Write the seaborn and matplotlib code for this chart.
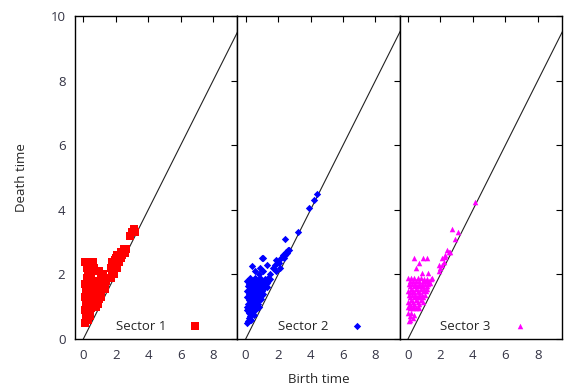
import pandas as pd
import matplotlib
matplotlib.use("Agg")
import matplotlib.pyplot as plt
import seaborn as sns

# persistence pairs (birth, death)
s1_birth = [0.1, 0.2, 0.3, 0.1, 0.2, 0.1, 0.2, 0.1, 0.3, 0.4, 0.5, 0.4, 0.6, 0.5, 0.7, 0.3,
            0.6, 0.8, 0.9, 0.7, 1.0, 1.1, 1.2, 0.9, 1.3, 1.4, 1.5, 1.1, 0.2, 0.4, 0.6, 0.3,
            0.8, 1.0, 1.2, 0.5, 0.2, 0.1, 0.3, 0.5, 0.7, 0.9, 1.1, 0.2, 0.4, 0.8,
            0.15, 0.35, 0.55, 0.75, 0.95, 1.15, 1.35, 0.15, 0.35, 0.55, 0.75, 0.95,
            0.15, 0.35, 0.55, 0.15, 0.35, 0.45, 0.65, 1.05, 1.25, 0.25, 0.45, 0.65,
            1.7, 1.8, 1.9, 2.0, 1.8, 2.1, 2.2, 2.3, 2.5, 2.6, 2.4, 2.0, 1.9, 2.1, 1.7,
            1.75, 1.95, 2.15, 2.35, 2.55, 2.65,
            2.9, 3.1, 3.2, 3.0]
s1_death = [0.5, 0.7, 0.6, 0.9, 1.1, 1.3, 1.5, 1.7, 1.8, 1.0, 1.2, 1.4, 1.5, 1.7, 1.8, 1.2,
            1.0, 1.3, 1.1, 1.6, 1.5, 1.3, 1.7, 1.8, 1.6, 1.8, 1.9, 1.9, 2.2, 2.3, 2.4, 2.0,
            2.1, 2.1, 2.0, 2.0, 1.9, 2.4, 2.4, 1.6, 1.4, 1.5, 1.6, 0.8, 0.7, 1.0,
            1.55, 1.55, 1.55, 1.55, 1.55, 1.55, 1.55, 1.25, 1.25, 1.25, 1.25, 1.25,
            1.0, 1.0, 1.0, 0.75, 0.85, 0.95, 1.15, 1.75, 1.85, 2.3, 2.15, 2.2,
            1.9, 2.1, 2.3, 2.5, 2.4, 2.6, 2.4, 2.7, 2.8, 2.7, 2.6, 2.2, 2.0, 2.2, 2.2,
            2.25, 2.45, 2.45, 2.5, 2.65, 2.8,
            3.2, 3.4, 3.3, 3.3]

s2_birth = [4.4, 4.2, 3.9, 3.2, 2.4, 2.7, 2.45, 1.8, 2.0, 2.2, 2.3, 2.5, 1.9, 2.1, 1.7, 2.6,
            1.0, 1.1, 0.4, 1.1, 1.5, 0.9, 1.3, 1.4, 0.6, 0.8, 2.35, 2.55, 1.85, 2.05,
            0.1, 0.2, 0.3, 0.4, 0.5, 0.6, 0.7, 0.8, 0.9, 1.0, 1.1, 1.2, 1.3, 1.4, 1.5,
            0.1, 0.2, 0.3, 0.4, 0.5, 0.6, 0.7, 0.8, 0.9, 1.0, 1.1, 1.2, 1.3,
            0.15, 0.25, 0.35, 0.45, 0.55, 0.65, 0.75, 0.85, 0.95, 1.05, 1.15, 1.25,
            0.1, 0.2, 0.3, 0.4, 0.5, 0.6, 0.7, 0.8, 0.9, 1.0, 1.1,
            0.15, 0.25, 0.35, 0.45, 0.55, 0.65, 0.75, 0.85, 0.95,
            0.1, 0.2, 0.3, 0.4, 0.5, 0.6, 0.7, 0.8, 0.2, 0.4, 0.6,
            0.1, 0.2, 0.3, 0.4, 0.5, 0.1, 0.3, 0.2, 0.15, 0.35]
s2_death = [4.5, 4.3, 4.05, 3.3, 3.1, 2.75, 2.6, 2.3, 2.4, 2.5, 2.6, 2.7, 2.1, 2.2, 2.2, 2.75,
            2.5, 2.5, 2.25, 2.1, 2.0, 2.2, 2.3, 1.9, 2.1, 2.0, 2.5, 2.65, 2.45, 2.35,
            1.8, 1.7, 1.9, 1.8, 1.7, 1.9, 1.8, 1.7, 1.9, 1.8, 1.7, 1.85, 1.75, 1.8, 1.85,
            1.5, 1.4, 1.6, 1.5, 1.4, 1.6, 1.5, 1.4, 1.6, 1.5, 1.55, 1.6, 1.6,
            1.65, 1.6, 1.55, 1.65, 1.6, 1.55, 1.65, 1.6, 1.55, 1.65, 1.7, 1.65,
            1.3, 1.2, 1.35, 1.25, 1.3, 1.2, 1.35, 1.25, 1.3, 1.35, 1.4,
            1.1, 1.05, 1.15, 1.1, 1.05, 1.15, 1.1, 1.2, 1.25,
            1.0, 0.95, 1.0, 0.9, 0.95, 1.0, 0.95, 1.0, 0.85, 0.85, 0.9,
            0.9, 0.8, 0.7, 0.85, 0.75, 0.5, 0.6, 0.65, 0.55, 0.6]

s3_birth = [4.1, 2.7, 3.1, 2.9, 2.4, 1.9, 2.1, 2.3, 2.5, 2.0, 2.2, 1.9, 2.6, 2.1, 2.3,
            0.4, 0.95, 1.15, 0.65, 1.25, 0.85, 0.5,
            0.0, 0.1, 0.2, 0.3, 0.4, 0.5, 0.6, 0.7, 0.8, 0.9, 1.0, 1.1, 1.2, 1.3, 1.4, 1.5,
            0.05, 0.15, 0.25, 0.35, 0.45, 0.55, 0.65, 0.75, 0.85, 0.95, 1.05, 1.15, 1.25, 1.35,
            0.0, 0.1, 0.2, 0.3, 0.4, 0.5, 0.6, 0.7, 0.8, 0.9, 1.0, 1.1, 1.2,
            0.05, 0.15, 0.25, 0.35, 0.45, 0.55, 0.65, 0.75, 0.85, 0.95, 1.05,
            0.0, 0.1, 0.2, 0.3, 0.4, 0.5, 0.6, 0.7, 0.8, 0.9,
            0.0, 0.1, 0.2, 0.3, 0.4, 0.5, 0.6, 0.7, 0.0, 0.1, 0.2, 0.3, 0.4, 0.05, 0.15]
s3_death = [4.25, 3.4, 3.3, 3.1, 2.75, 2.3, 2.5, 2.6, 2.7, 2.2, 2.4, 2.1, 2.7, 2.3, 2.55,
            2.5, 2.5, 2.5, 2.35, 2.05, 2.05, 2.2,
            1.9, 1.8, 1.9, 1.8, 1.9, 1.8, 1.9, 1.8, 1.9, 1.8, 1.85, 1.8, 1.85, 1.8, 1.85, 1.9,
            1.7, 1.65, 1.7, 1.65, 1.7, 1.65, 1.7, 1.65, 1.7, 1.65, 1.7, 1.65, 1.7, 1.75,
            1.5, 1.45, 1.55, 1.5, 1.45, 1.55, 1.5, 1.45, 1.55, 1.5, 1.55, 1.5, 1.55,
            1.35, 1.3, 1.35, 1.3, 1.35, 1.3, 1.35, 1.3, 1.35, 1.3, 1.35,
            1.15, 1.1, 1.2, 1.15, 1.1, 1.2, 1.15, 1.1, 1.2, 1.15,
            1.0, 0.95, 1.0, 0.95, 1.0, 0.95, 1.0, 0.95, 0.8, 0.7, 0.8, 0.65, 0.75, 0.55, 0.6]

sectors = ["Sector 1", "Sector 2", "Sector 3"]
colors = ["#ff0000", "#0000ff", "#ff00ff"]
markers = ["s", "D", "^"]
sizes = [30, 14, 16]
births = [s1_birth, s2_birth, s3_birth]
deaths = [s1_death, s2_death, s3_death]
ticks = [0, 2, 4, 6, 8]

sns.set_style("white")
plt.rcParams['font.family'] = ['Open Sans', 'DejaVu Sans']
plt.rcParams['xtick.direction'] = 'in'
plt.rcParams['ytick.direction'] = 'in'

fig, axes = plt.subplots(1, 3, figsize=(5.65, 3.88), dpi=100, sharey=True)
fig.subplots_adjust(left=0.133, right=0.995, bottom=0.126, top=0.959, wspace=0)

for ax, name, c, m, s, b, d in zip(axes, sectors, colors, markers, sizes, births, deaths):
    df = pd.DataFrame({"birth": b, "death": d})
    ax.plot([0, 10], [0, 10], color="#222222", lw=0.8, zorder=1)
    sns.scatterplot(data=df, x="birth", y="death", ax=ax, color=c, marker=m, s=s,
                    linewidth=0, label=name, zorder=2)
    ax.set_xlim(-0.5, 9.5)
    ax.set_ylim(0, 10)
    ax.set_xticks(ticks)
    ax.set_yticks([0, 2, 4, 6, 8, 10])
    ax.tick_params(top=True, right=True, length=4, width=0.8, labelsize=9.5,
                   colors="black", labelcolor="#333344")
    ax.tick_params(axis="x", pad=7)
    ax.tick_params(axis="y", pad=7)
    for sp in ax.spines.values():
        sp.set_color("black")
        sp.set_linewidth(1.0)
    ax.set_xlabel("")
    ax.set_ylabel("")
    ax.legend(loc="lower right", frameon=False, markerfirst=False, fontsize=9.5,
              handletextpad=1.2, borderaxespad=0.1, bbox_to_anchor=(0.86, 0.0))

axes[0].set_ylabel("Death time", fontsize=9.5, labelpad=16)
axes[1].set_xlabel("Birth time", fontsize=9.5, labelpad=8)

plt.savefig("out.png", dpi=100)
plt.close()
